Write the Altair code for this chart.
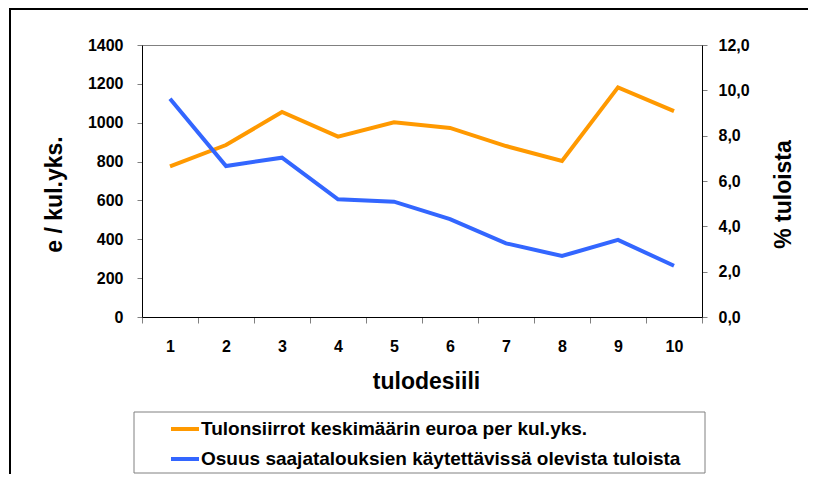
import altair as alt
import pandas as pd

# ---- data ----
deciles = [1, 2, 3, 4, 5, 6, 7, 8, 9, 10]
euros = [775, 885, 1055, 928, 1002, 973, 880, 803, 1182, 1060]
share = [9.63, 6.66, 7.03, 5.19, 5.09, 4.32, 3.25, 2.69, 3.40, 2.26]
series_names = [
    "Tulonsiirrot keskimäärin euroa per kul.yks.",
    "Osuus saajatalouksien käytettävissä olevista tuloista",
]
series_colors = ["#FF9900", "#3366FF"]
left_ticks = [0, 200, 400, 600, 800, 1000, 1200, 1400]
right_ticks = [0, 2, 4, 6, 8, 10, 12]

FONT = "Liberation Sans"

df_e = pd.DataFrame({"desiili": deciles, "arvo": euros, "sarja": series_names[0]})
df_s = pd.DataFrame({"desiili": deciles, "arvo": share, "sarja": series_names[1]})

color = alt.Color(
    "sarja:N",
    scale=alt.Scale(domain=series_names, range=series_colors),
    legend=alt.Legend(
        title=None,
        orient="none",
        legendX=27,
        legendY=368,
        symbolType="stroke",
        symbolStrokeWidth=4,
        symbolSize=784,
        labelFont=FONT,
        labelFontSize=19,
        labelFontWeight="bold",
        labelColor="black",
        labelOffset=0,
        labelLimit=900,
        rowPadding=4,
        padding=0,
    ),
)

x_enc = alt.X(
    "desiili:O",
    scale=alt.Scale(type="band", paddingInner=0, paddingOuter=0),
    axis=alt.Axis(
        title="tulodesiili",
        titleFont=FONT,
        titleFontSize=23,
        titleFontWeight="bold",
        titleColor="black",
        titleX=284,
        titleY=71,
        titleBaseline="alphabetic",
        labelAngle=0,
        labelFont=FONT,
        labelFontSize=16,
        labelFontWeight="bold",
        labelColor="black",
        labelBaseline="alphabetic",
        labelPadding=28,
        tickBand="extent",
        tickSize=6,
        tickColor="#808080",
        domainColor="black",
        grid=False,
    ),
)

line_e = alt.Chart(df_e).mark_line(strokeWidth=4).encode(
    x=x_enc,
    y=alt.Y(
        "arvo:Q",
        scale=alt.Scale(domain=[0, 1400], nice=False),
        axis=alt.Axis(
            orient="left",
            values=left_ticks,
            format="d",
            title="e / kul.yks.",
            titleFont=FONT,
            titleFontSize=23,
            titleFontWeight="bold",
            titleColor="black",
            titleAngle=270,
            titleAlign="center",
            titleBaseline="middle",
            titleX=-88,
            titleY=149,
            labelFont=FONT,
            labelFontSize=16,
            labelFontWeight="bold",
            labelColor="black",
            labelPadding=14,
            tickSize=5,
            tickColor="#808080",
            domainColor="black",
            grid=False,
        ),
    ),
    color=color,
)

line_s = alt.Chart(df_s).mark_line(strokeWidth=4).encode(
    x=x_enc,
    y=alt.Y(
        "arvo:Q",
        scale=alt.Scale(domain=[0, 12], nice=False),
        axis=alt.Axis(
            orient="right",
            values=right_ticks,
            labelExpr="replace(format(datum.value, '.1f'), '.', ',')",
            title="% tuloista",
            titleFont=FONT,
            titleFontSize=23,
            titleFontWeight="bold",
            titleColor="black",
            titleAngle=270,
            titleAlign="center",
            titleBaseline="middle",
            titleX=81,
            titleY=149,
            labelFont=FONT,
            labelFontSize=16,
            labelFontWeight="bold",
            labelColor="black",
            labelPadding=11,
            tickSize=5,
            tickColor="#808080",
            domainColor="black",
            grid=False,
        ),
    ),
    color=color,
)

one = pd.DataFrame({"k": [0]})
frame_top = alt.Chart(one).mark_rule(color="black", strokeWidth=2).encode(
    x=alt.value(-133), x2=alt.value(700), y=alt.value(-36)
)
frame_left = alt.Chart(one).mark_rule(color="black", strokeWidth=2).encode(
    x=alt.value(-132), y=alt.value(-37), y2=alt.value(500)
)
legend_box = alt.Chart(one).mark_rect(fillOpacity=0, stroke="#808080", strokeWidth=1).encode(
    x=alt.value(-8), x2=alt.value(563), y=alt.value(367), y2=alt.value(428)
)

chart = (
    alt.layer(frame_top, frame_left, legend_box, line_e, line_s)
    .resolve_scale(y="independent")
    .properties(
        width=560,
        height=272,
        autosize=alt.AutoSizeParams(type="none"),
        padding={"left": 134, "top": 37, "right": 106, "bottom": 157},
        background="white",
    )
    .configure_view(stroke="#808080", strokeWidth=1)
)

chart.save("out.html", embed_options={"renderer": "svg", "actions": False})
